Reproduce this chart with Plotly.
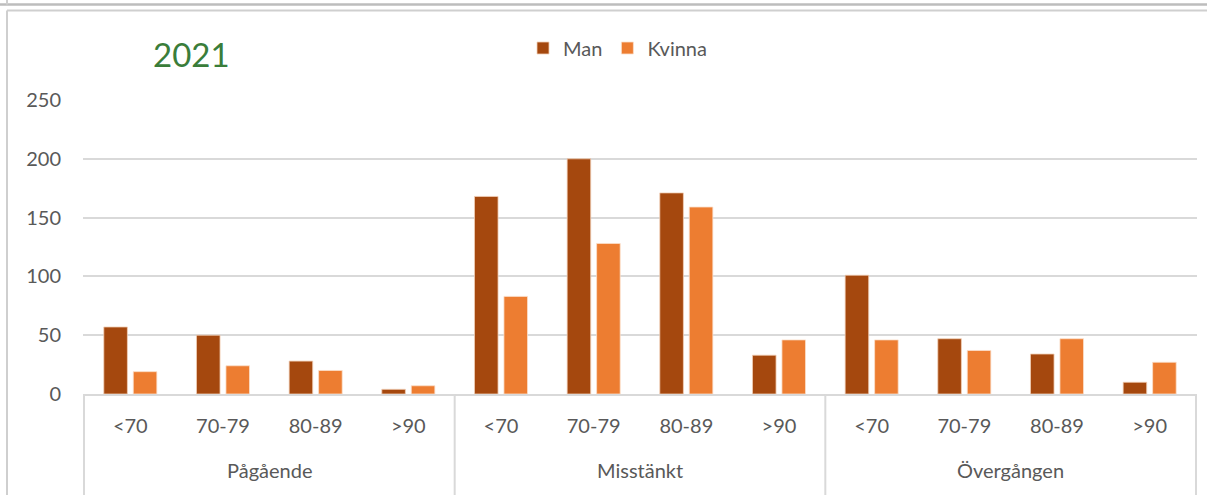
import plotly.graph_objects as go

# Data
groups = ["Pågående", "Misstänkt", "Övergången"]
ages = ["<70", "70-79", "80-89", ">90"]
man = [57, 50, 28, 4, 168, 200, 171, 33, 101, 47, 34, 10]
kvinna = [19, 24, 20, 7, 83, 128, 159, 46, 46, 37, 47, 27]
y_ticks = [0, 50, 100, 150, 200, 250]

# one category per (group, age) pair; age shown as tick label
x_keys = [f"{g}|{a}" for g in groups for a in ages]
x_text = [a for _ in groups for a in ages]

FONT = "Lato"
GRAY = "#595959"
LINE = "#D9D9D9"

# plot area in pixels: x 83..1197, y 100 (250) .. 394 (0)
def py(p):
    return (394 - p) / 294

def px(p):
    return (p - 83) / 1114

fig = go.Figure()
fig.add_trace(go.Bar(
    x=x_keys, y=man, name="Man",
    marker=dict(color="#A5480E", line=dict(color="#F2D0B8", width=0.8)),
))
fig.add_trace(go.Bar(
    x=x_keys, y=kvinna, name="Kvinna",
    marker=dict(color="#ED7D31", line=dict(color="#FBE0CC", width=0.8)),
))

n = len(ages)
annotations = [dict(
    text="2021", xref="paper", yref="paper", x=px(191), y=py(54),
    xanchor="center", yanchor="middle", showarrow=False,
    font=dict(size=33, color="#3A7D3A", family=FONT),
)]
for i, g in enumerate(groups):
    annotations.append(dict(
        text=g, xref="x", yref="paper", x=i * n + (n - 1) / 2, y=py(470),
        xanchor="center", yanchor="middle", showarrow=False,
        font=dict(size=20, color=GRAY, family=FONT),
    ))

shapes = []
# group dividers below the axis, Excel style
for i in range(len(groups) + 1):
    shapes.append(dict(
        type="line", xref="x", yref="paper", x0=i * n - 0.5, x1=i * n - 0.5,
        y0=0, y1=py(500), line=dict(color=LINE, width=2),
    ))
# outer chart frame (cropped screenshot edges)
shapes += [
    dict(type="line", xref="paper", yref="paper", x0=px(0), x1=px(1210),
         y0=py(4.5), y1=py(4.5), line=dict(color="#BDBDBD", width=2.5)),
    dict(type="line", xref="paper", yref="paper", x0=px(7), x1=px(1210),
         y0=py(10.5), y1=py(10.5), line=dict(color="#CFCFCF", width=2)),
    dict(type="line", xref="paper", yref="paper", x0=px(7), x1=px(7),
         y0=py(10.5), y1=py(500), line=dict(color="#CFCFCF", width=2)),
    dict(type="line", xref="paper", yref="paper", x0=px(7), x1=px(7),
         y0=py(-2), y1=py(4.5), line=dict(color="#CFCFCF", width=2)),
]

fig.update_layout(
    width=1207, height=495,
    margin=dict(l=83, r=10, t=100, b=101, autoexpand=False),
    plot_bgcolor="white", paper_bgcolor="white",
    barmode="group", bargap=0.364, bargroupgap=0.2,
    font=dict(family=FONT, size=20, color=GRAY),
    showlegend=True,
    legend=dict(orientation="h", x=px(523), y=py(48), xanchor="left", yanchor="middle",
                bgcolor="rgba(0,0,0,0)", font=dict(size=20, color=GRAY)),
    xaxis=dict(
        type="category", tickvals=x_keys, ticktext=x_text,
        showgrid=False, ticks="", showline=True, linecolor=LINE, linewidth=2,
        tickfont=dict(size=20, color=GRAY), ticklabelstandoff=13,
    ),
    yaxis=dict(
        range=[0, 250], tickvals=y_ticks, showgrid=True, gridcolor=LINE,
        gridwidth=2, zeroline=False, showline=False, ticks="",
        tickfont=dict(size=20, color=GRAY), ticklabelstandoff=21,
    ),
    annotations=annotations,
    shapes=shapes,
)

# drop the page's default body margin so the figure sits at the window corner
fig.write_html("out.html", config={"displayModeBar": False},
               post_script="document.body.style.margin='0';")
